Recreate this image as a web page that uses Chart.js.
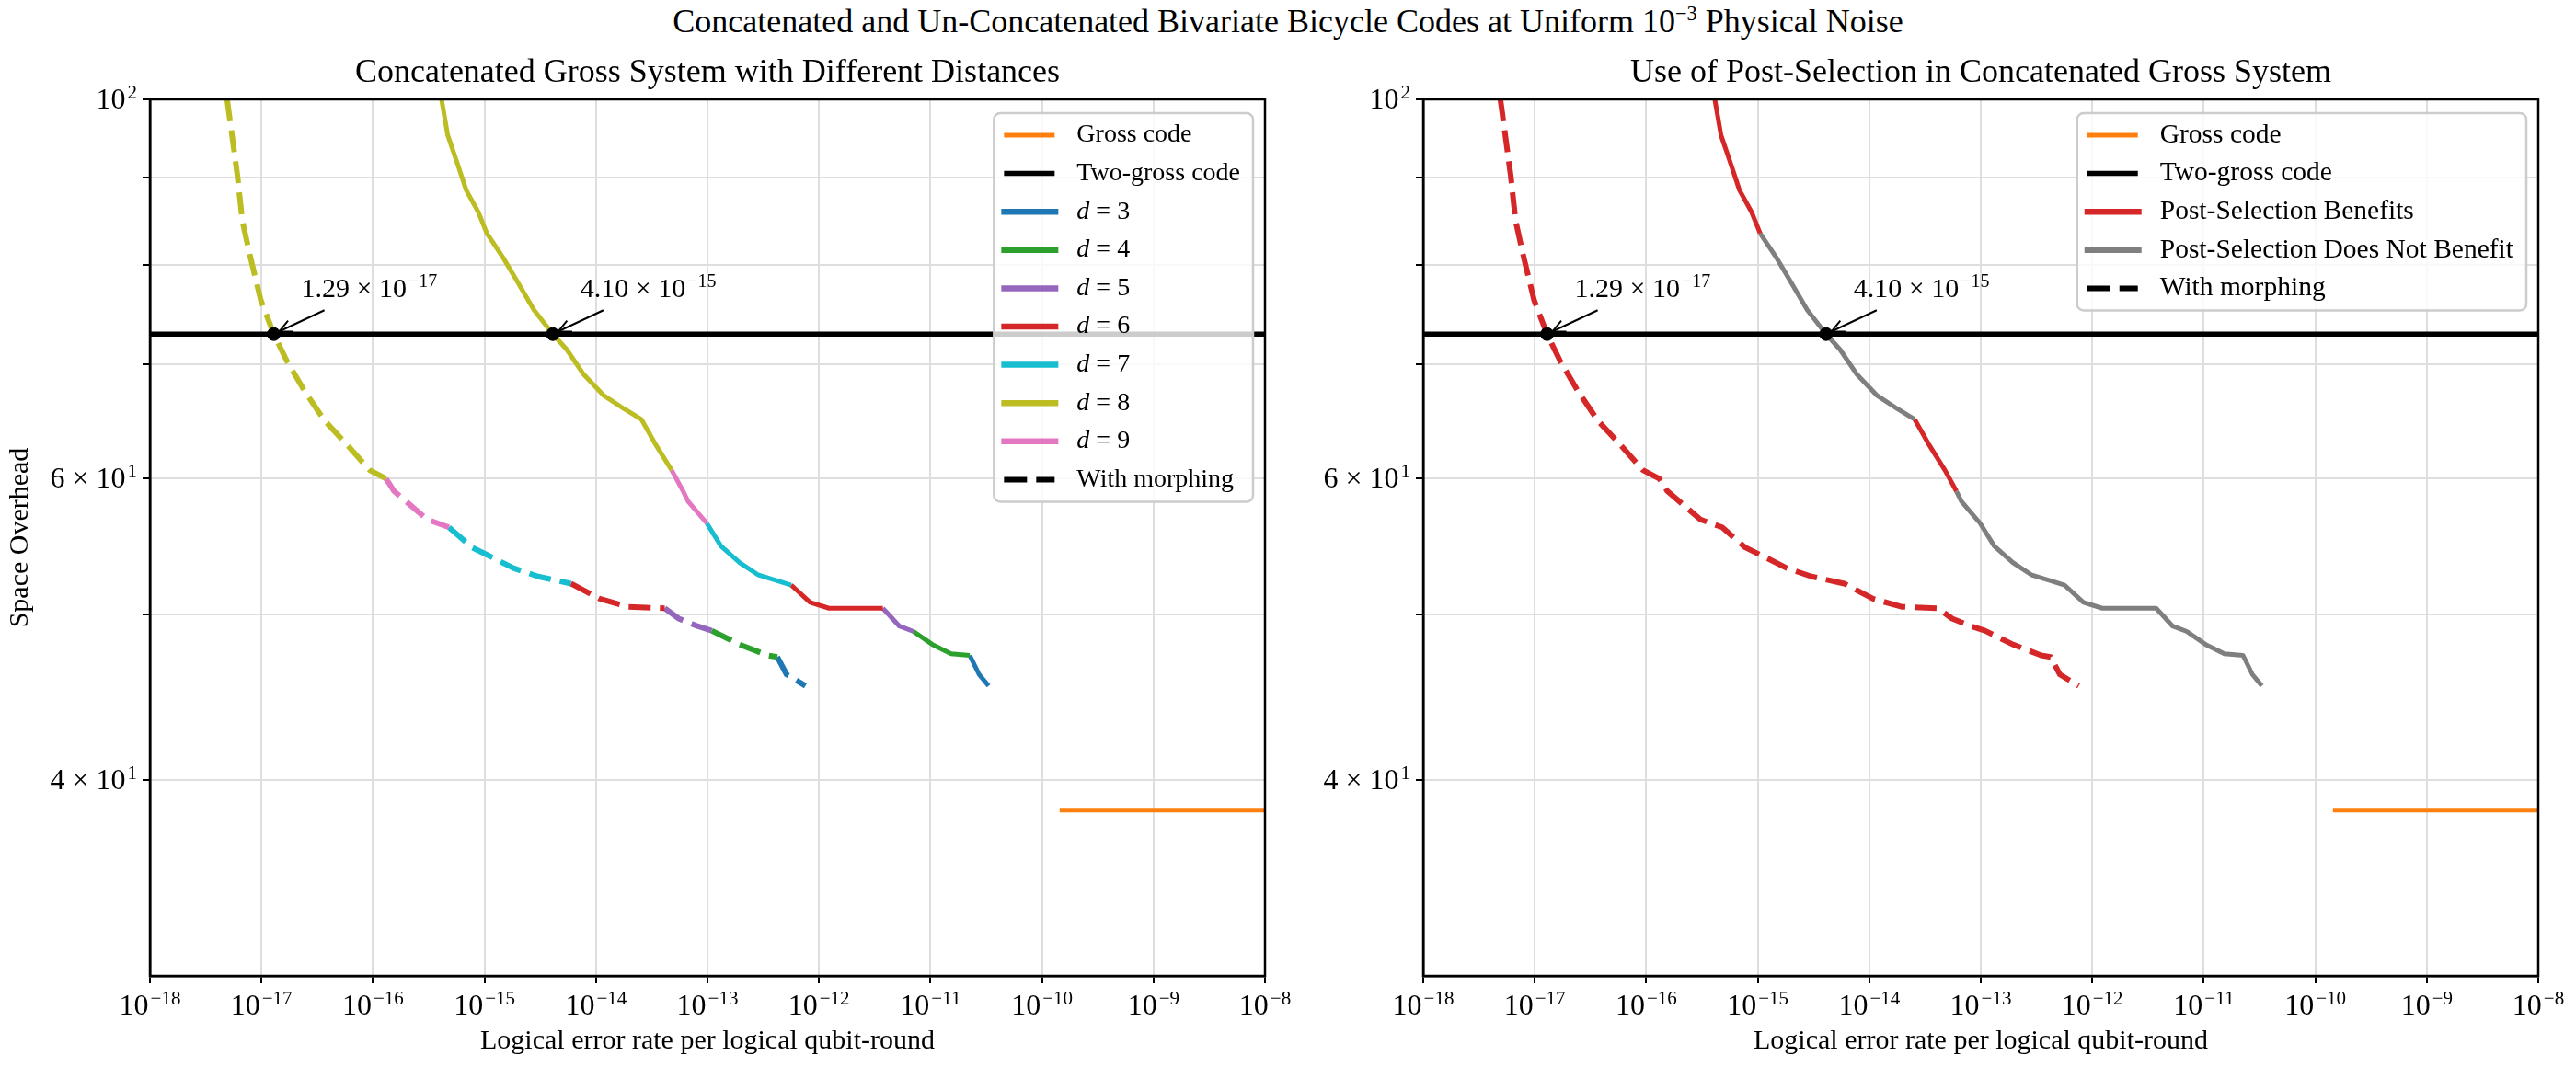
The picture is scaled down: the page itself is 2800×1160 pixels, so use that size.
<!DOCTYPE html>
<html>
<head>
<meta charset="utf-8">
<script src="https://cdn.jsdelivr.net/npm/chart.js@4.4.1/dist/chart.umd.min.js"></script>
<style>
  html, body { margin: 0; padding: 0; background: #fff; }
  #wrap { position: relative; width: 2800px; height: 1160px; overflow: hidden; }
  #suptitle { position: absolute; left: 0; top: 2px; width: 2800px; text-align: center;
              font: 36px "Liberation Serif", "DejaVu Serif", serif; color: #000; }
  #suptitle sup { font-size: 0.62em; vertical-align: 0; position: relative; top: -0.6em; }
  canvas { position: absolute; top: 0; }
</style>
</head>
<body>
<div id="wrap">
  <div id="suptitle">Concatenated and Un-Concatenated Bivariate Bicycle Codes at Uniform 10<sup>−3</sup> Physical Noise</div>
  <canvas id="left" width="1460" height="1160" style="left:0"></canvas>
  <canvas id="right" width="1400" height="1160" style="left:1400px"></canvas>
</div>
<script>
const FONT = '"Liberation Serif", "DejaVu Serif", serif';
const GRID = '#dedede';

// axes
const xTickValues = [1e-18, 1e-17, 1e-16, 1e-15, 1e-14, 1e-13, 1e-12, 1e-11, 1e-10, 1e-9, 1e-8];
const xTickLabels = [['10', '−18'], ['10', '−17'], ['10', '−16'], ['10', '−15'], ['10', '−14'], ['10', '−13'],
  ['10', '−12'], ['10', '−11'], ['10', '−10'], ['10', '−9'], ['10', '−8']];
const yTickValues = [40, 50, 60, 70, 80, 90, 100];
const yTickLabels = [['4 × 10', '1'], null, ['6 × 10', '1'], null, null, null, ['10', '2']];
const yMin = 30.72, yMax = 100;

// reference codes
const grossRate = [1.44e-10, 1e-8];
const grossOverhead = [38.4, 38.4];
const twoGrossRate = [1e-18, 1e-8];
const twoGrossOverhead = [72.9, 72.9];

// concatenated system, with morphing (dashed)
const morphRate = [4.92e-18, 5.44e-18, 6.08e-18, 6.74e-18, 7.98e-18, 9.87e-18, 1.29e-17, 1.71e-17,
  2.41e-17, 3.67e-17, 5.61e-17, 9.34e-17, 1.31e-16, 1.55e-16, 3.06e-16, 4.8e-16, 7.72e-16, 1.09e-15,
  1.82e-15, 3.03e-15, 5.96e-15, 1.08e-14, 1.95e-14, 4.13e-14, 5.53e-14, 8.14e-14, 1.09e-13, 1.94e-13,
  3.48e-13, 4.23e-13, 5.12e-13, 7.56e-13];
const morphOverhead = [100, 95.3, 90.3, 84.9, 80.8, 76.3, 72.9, 70.2, 67.6, 64.9, 63.0, 60.7, 60.0, 59.0,
  56.8, 56.2, 54.7, 54.1, 53.2, 52.6, 52.1, 51.05, 50.5, 50.4, 49.7, 49.2, 48.9, 48.0, 47.3, 47.2, 46.1, 45.4];
const morphDist = [8, 8, 8, 8, 8, 8, 8, 8, 8, 8, 8, 8, 9, 9, 9, 7, 7, 7, 7, 7, 6, 6, 6, 5, 5, 5, 4, 4, 4, 3, 3, 3];
const morphPostSel = [1, 1, 1, 1, 1, 1, 1, 1, 1, 1, 1, 1, 1, 1, 1, 1, 1, 1, 1, 1, 1, 1, 1, 1, 1, 1, 1, 1, 1, 1, 1, 1];

// concatenated system, without morphing (solid)
const plainRate = [4.12e-16, 4.68e-16, 5.79e-16, 6.85e-16, 8.82e-16, 1.05e-15, 1.47e-15, 1.98e-15, 2.78e-15,
  4.10e-15, 5.47e-15, 7.68e-15, 1.18e-14, 1.8e-14, 2.55e-14, 3.39e-14, 4.77e-14, 6.05e-14, 6.71e-14,
  9.89e-14, 1.32e-13, 1.94e-13, 2.87e-13, 4.23e-13, 5.63e-13, 8.33e-13, 1.23e-12, 3.74e-12, 5.26e-12,
  7.04e-12, 1.04e-11, 1.53e-11, 2.25e-11, 2.73e-11, 3.32e-11];
const plainOverhead = [100, 95.3, 91.5, 88.5, 85.9, 83.5, 80.8, 78.2, 75.3, 72.9, 71.4, 69.1, 67.1, 65.9,
  65.0, 62.9, 60.7, 59.0, 58.2, 56.5, 54.8, 53.6, 52.7, 52.3, 52.0, 50.8, 50.4, 50.4, 49.2, 48.85, 48.0,
  47.4, 47.3, 46.1, 45.4];
const plainDist = [8, 8, 8, 8, 8, 8, 8, 8, 8, 8, 8, 8, 8, 8, 8, 8, 9, 9, 9, 7, 7, 7, 7, 7, 6, 6, 6, 5, 5,
  4, 4, 4, 3, 3, 3];
const plainPostSel = [1, 1, 1, 1, 1, 0, 0, 0, 0, 0, 0, 0, 0, 0, 1, 1, 1, 0, 0, 0, 0, 0, 0, 0, 0, 0, 0, 0, 0,
  0, 0, 0, 0, 0, 0];

// crossings with the two-gross code
const crossRate = [1.29e-17, 4.10e-15];
const crossLabels = [['1.29 × 10', '−17'], ['4.10 × 10', '−15']];

const distColors = {3: '#1f77b4', 4: '#2ca02c', 5: '#9467bd', 6: '#d62728', 7: '#17becf', 8: '#bcbd22', 9: '#e377c2'};
const postSelColors = {1: '#d62728', 0: '#7f7f7f'};
const ORANGE = '#ff7f0e';
const DASH = [24, 10];

// split a curve into runs of the same key (each run keeps the joining point)
function splitRuns(rate, overhead, keys) {
  const runs = [];
  let cur = null;
  for (let i = 0; i < rate.length - 1; i++) {
    if (!cur || cur.key !== keys[i]) {
      cur = { key: keys[i], pts: [{ x: rate[i], y: overhead[i] }] };
      runs.push(cur);
    }
    cur.pts.push({ x: rate[i + 1], y: overhead[i + 1] });
  }
  return runs;
}

function lineSet(pts, color, width, dash, order) {
  return {
    data: pts, borderColor: color, backgroundColor: color, borderWidth: width,
    borderDash: dash || [], pointRadius: 0, pointHoverRadius: 0, fill: false, tension: 0,
    order: order, borderCapStyle: 'butt', borderJoinStyle: 'round'
  };
}

function pairs(xs, ys) {
  return xs.map((x, i) => ({ x: x, y: ys[i] }));
}

function baseSets() {
  return [
    {
      data: crossRate.map(r => ({ x: r, y: twoGrossOverhead[0] })), showLine: false,
      pointRadius: 7, pointBackgroundColor: '#000', pointBorderColor: '#000', order: 0
    },
    lineSet(pairs(twoGrossRate, twoGrossOverhead), '#000', 5.5, null, 1),
    lineSet(pairs(grossRate, grossOverhead), ORANGE, 5, null, 2)
  ];
}

function curveSets(keysMorph, keysPlain, colors) {
  const sets = [];
  splitRuns(plainRate, plainOverhead, keysPlain).forEach(r => sets.push(lineSet(r.pts, colors[r.key], 5, null, 4)));
  splitRuns(morphRate, morphOverhead, keysMorph).forEach(r => sets.push(lineSet(r.pts, colors[r.key], 6, DASH, 3)));
  return sets;
}

// base with raised exponent, like 10^-18
function drawPow(ctx, lab, x, y, align, bs, es, rise) {
  ctx.font = `${bs}px ${FONT}`;
  const wb = ctx.measureText(lab[0]).width;
  ctx.font = `${es}px ${FONT}`;
  const we = ctx.measureText(lab[1]).width;
  const total = wb + 2 + we;
  const x0 = align === 'center' ? x - total / 2 : (align === 'right' ? x - total : x);
  ctx.textAlign = 'left';
  ctx.textBaseline = 'alphabetic';
  ctx.font = `${bs}px ${FONT}`;
  ctx.fillText(lab[0], x0, y);
  ctx.font = `${es}px ${FONT}`;
  ctx.fillText(lab[1], x0 + wb + 2, y - rise);
}

// tick labels with proper superscripts
const tickLabelPlugin = {
  id: 'tickLabels',
  afterDraw(chart) {
    const { ctx, chartArea: a, scales: { x, y } } = chart;
    ctx.save();
    ctx.fillStyle = '#000';
    xTickValues.forEach((v, i) => {
      drawPow(ctx, xTickLabels[i], x.getPixelForValue(v), a.bottom + 42, 'center', 32, 21, 11);
    });
    yTickValues.forEach((v, i) => {
      if (!yTickLabels[i]) return;
      drawPow(ctx, yTickLabels[i], a.left - 14, y.getPixelForValue(v) + 10, 'right', 32, 21, 11);
    });
    ctx.restore();
  }
};

// outer frame (top and right spines)
const framePlugin = {
  id: 'frame',
  afterDraw(chart) {
    const { ctx, chartArea: a } = chart;
    ctx.save();
    ctx.strokeStyle = '#000';
    ctx.lineWidth = 2.5;
    ctx.strokeRect(a.left, a.top, a.right - a.left, a.bottom - a.top);
    ctx.restore();
  }
};

// value labels + arrows at the crossing points
const crossPlugin = {
  id: 'crossNotes',
  afterDatasetsDraw(chart) {
    const { ctx, scales: { x, y } } = chart;
    ctx.save();
    ctx.fillStyle = '#000';
    ctx.strokeStyle = '#000';
    crossRate.forEach((r, i) => {
      const px = x.getPixelForValue(r), py = y.getPixelForValue(twoGrossOverhead[0]);
      drawPow(ctx, crossLabels[i], px + 30, py - 40, 'left', 30, 20, 11);
      const tx = px + 55, ty = py - 26, hx = px + 6, hy = py - 3;
      ctx.lineWidth = 2;
      ctx.beginPath(); ctx.moveTo(tx, ty); ctx.lineTo(hx, hy); ctx.stroke();
      const ang = Math.atan2(hy - ty, hx - tx);
      ctx.beginPath();
      ctx.moveTo(hx - 15 * Math.cos(ang - 0.45), hy - 15 * Math.sin(ang - 0.45));
      ctx.lineTo(hx, hy);
      ctx.lineTo(hx - 15 * Math.cos(ang + 0.45), hy - 15 * Math.sin(ang + 0.45));
      ctx.stroke();
    });
    ctx.restore();
  }
};

function labelWidth(ctx, it, fs) {
  if (it.dist) {
    ctx.font = `italic ${fs}px ${FONT}`;
    const w = ctx.measureText('d').width;
    ctx.font = `${fs}px ${FONT}`;
    return w + ctx.measureText(' = ' + it.dist).width;
  }
  ctx.font = `${fs}px ${FONT}`;
  return ctx.measureText(it.label).width;
}

function drawLabel(ctx, it, x, y, fs) {
  ctx.fillStyle = '#000';
  ctx.textBaseline = 'middle';
  ctx.textAlign = 'left';
  if (it.dist) {
    ctx.font = `italic ${fs}px ${FONT}`;
    ctx.fillText('d', x, y);
    const w = ctx.measureText('d').width;
    ctx.font = `${fs}px ${FONT}`;
    ctx.fillText(' = ' + it.dist, x + w, y);
  } else {
    ctx.font = `${fs}px ${FONT}`;
    ctx.fillText(it.label, x, y);
  }
}

// framed legend in the upper right of the plot
function boxLegend(items, fs) {
  return {
    id: 'boxLegend',
    afterDraw(chart) {
      const { ctx, chartArea: a } = chart;
      ctx.save();
      let tw = 0;
      items.forEach(it => { tw = Math.max(tw, labelWidth(ctx, it, fs)); });
      const rowH = 41.6, padY = 24;
      const w = 90 + tw + 14, h = padY * 2 + rowH * (items.length - 1);
      const bx = a.right - 13 - w, by = a.top + 15;
      ctx.beginPath();
      ctx.roundRect(bx, by, w, h, 7);
      ctx.fillStyle = 'rgba(255,255,255,0.8)';
      ctx.fill();
      ctx.strokeStyle = '#cccccc';
      ctx.lineWidth = 2.5;
      ctx.stroke();
      items.forEach((it, i) => {
        const cy = by + padY + i * rowH;
        ctx.beginPath();
        ctx.setLineDash(it.dash || []);
        ctx.strokeStyle = it.color;
        ctx.lineWidth = it.width;
        ctx.moveTo(bx + it.x0, cy);
        ctx.lineTo(bx + it.x1, cy);
        ctx.stroke();
        ctx.setLineDash([]);
        drawLabel(ctx, it, bx + 90, cy, fs);
      });
      ctx.restore();
    }
  };
}

function makePanel(id, opt) {
  return new Chart(document.getElementById(id), {
    type: 'line',
    data: { datasets: opt.datasets },
    options: {
      responsive: false,
      animation: false,
      devicePixelRatio: 1,
      layout: { padding: { left: 0, right: opt.padRight, top: 0, bottom: 0 } },
      plugins: {
        legend: { display: false },
        tooltip: { enabled: false },
        title: {
          display: true, text: opt.title, fullSize: false, color: '#000',
          font: { family: FONT, size: 36, weight: 'normal', lineHeight: 1.2 },
          padding: { top: 58, bottom: 6.8 }
        }
      },
      scales: {
        x: {
          type: 'logarithmic', min: xTickValues[0], max: xTickValues[xTickValues.length - 1],
          afterBuildTicks: s => { s.ticks = xTickValues.map(v => ({ value: v })); },
          afterFit: s => { s.height = 99; },
          ticks: { display: false, autoSkip: false },
          grid: { color: GRID, lineWidth: 2, tickColor: '#000', tickLength: 8, tickWidth: 2 },
          border: { color: '#000', width: 2.5 },
          title: {
            display: true, text: 'Logical error rate per logical qubit-round', color: '#000',
            font: { family: FONT, size: 30 }, padding: { top: 0, bottom: 10 }
          }
        },
        y: {
          type: 'logarithmic', min: yMin, max: yMax,
          afterBuildTicks: s => { s.ticks = yTickValues.map(v => ({ value: v })); },
          afterFit: s => { s.width = opt.yWidth; },
          ticks: { display: false, autoSkip: false },
          grid: { color: GRID, lineWidth: 2, tickColor: '#000', tickLength: 8, tickWidth: 2 },
          border: { color: '#000', width: 2.5 },
          title: {
            display: opt.yTitle, text: 'Space Overhead', color: '#000',
            font: { family: FONT, size: 30 }, padding: { top: 4, bottom: 0 }
          }
        }
      }
    },
    plugins: [framePlugin, tickLabelPlugin, crossPlugin, boxLegend(opt.legend, opt.legendSize)]
  });
}

const commonLegendTop = [
  { label: 'Gross code', color: ORANGE, width: 5, x0: 11, x1: 66 },
  { label: 'Two-gross code', color: '#000', width: 5.5, x0: 11, x1: 66 }
];
const morphLegend = { label: 'With morphing', color: '#000', width: 6, x0: 11, x1: 66, dash: [25, 10] };

makePanel('left', {
  title: 'Concatenated Gross System with Different Distances',
  padRight: 85, yWidth: 163, yTitle: true, legendSize: 28,
  datasets: baseSets().concat(curveSets(morphDist, plainDist, distColors)),
  legend: commonLegendTop
    .concat([3, 4, 5, 6, 7, 8, 9].map(d => ({ dist: d, color: distColors[d], width: 6.5, x0: 8, x1: 70 })))
    .concat([morphLegend])
});

makePanel('right', {
  title: 'Use of Post-Selection in Concatenated Gross System',
  padRight: 41, yWidth: 147, yTitle: false, legendSize: 29.5,
  datasets: baseSets().concat(curveSets(morphPostSel, plainPostSel, postSelColors)),
  legend: commonLegendTop.concat([
    { label: 'Post-Selection Benefits', color: postSelColors[1], width: 6.5, x0: 8, x1: 70 },
    { label: 'Post-Selection Does Not Benefit', color: postSelColors[0], width: 6.5, x0: 8, x1: 70 },
    morphLegend
  ])
});
</script>
</body>
</html>
